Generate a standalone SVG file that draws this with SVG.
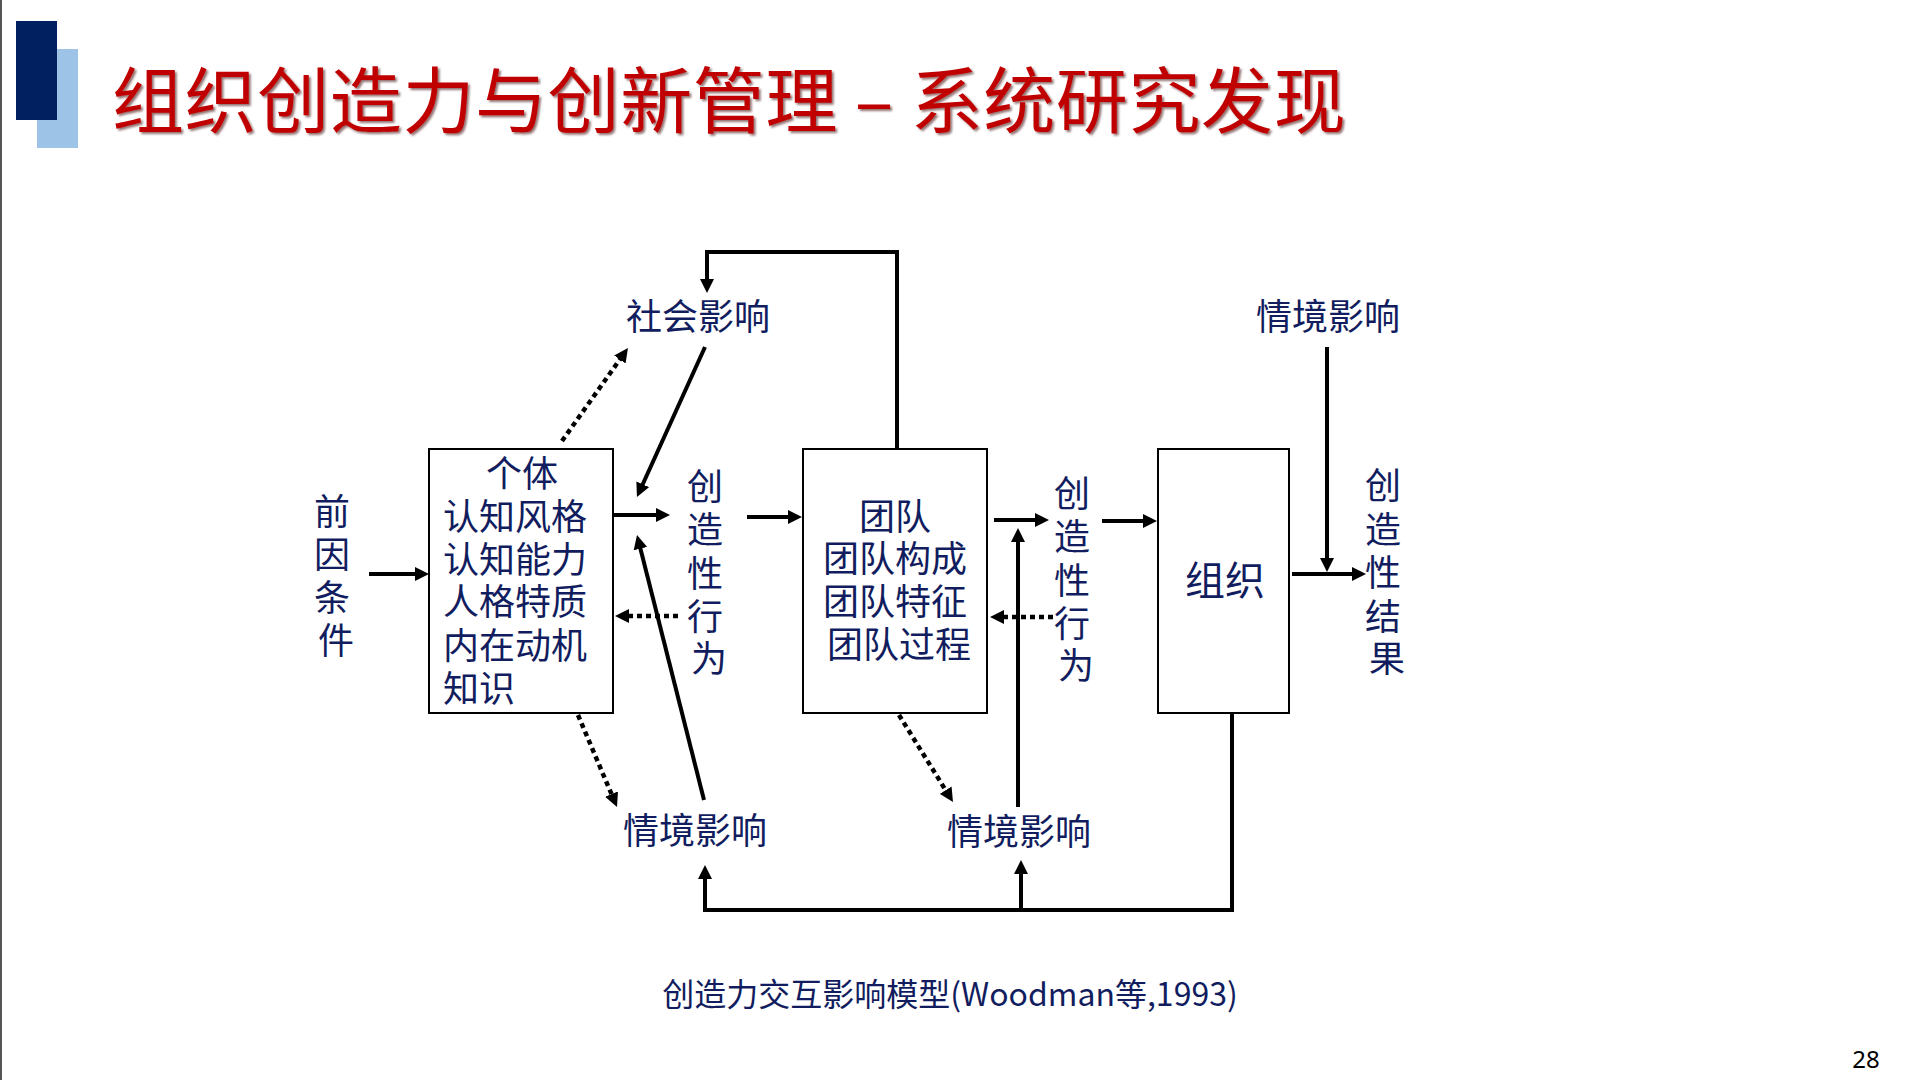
<svg xmlns="http://www.w3.org/2000/svg" width="1920" height="1080" viewBox="0 0 1920 1080">
  <style>
    .lbl { font-family: "Noto Sans CJK SC", "Noto Sans", sans-serif; fill: #111D5E; }
    .box { fill: #FFFFFF; stroke: #000000; stroke-width: 2; }
    .solid { fill: none; stroke: #000000; stroke-width: 4; }
    .dot { fill: none; stroke: #000000; stroke-width: 4.5; stroke-dasharray: 5 4; }
  </style>
  <defs>
    <marker id="head" viewBox="0 0 14 14" refX="3" refY="7" markerWidth="14" markerHeight="14" markerUnits="userSpaceOnUse" orient="auto">
      <path d="M0,0 L14,7 L0,14 Z" fill="#000000"/>
    </marker>
    <filter id="titleShadow" x="-5%" y="-20%" width="110%" height="140%">
      <feDropShadow dx="2" dy="2" stdDeviation="0.8" flood-color="#3A0000" flood-opacity="0.55"/>
    </filter>
  </defs>

  <rect x="0" y="0" width="1920" height="1080" fill="#FFFFFF"/>
  <line x1="1" y1="0" x2="1" y2="1080" stroke="#555555" stroke-width="2"/>

  <!-- title bar -->
  <g id="title">
    <rect x="37" y="49" width="41" height="99" fill="#9DC3E6"/>
    <rect x="16" y="21" width="41" height="99" fill="#002060"/>
    <text x="112" y="127" font-family="'Noto Sans CJK SC', sans-serif" font-size="72" letter-spacing="0.6" fill="#C00000" filter="url(#titleShadow)">组织创造力与创新管理 – 系统研究发现</text>
  </g>

  <!-- connectors -->
  <g id="connectors">
    <line class="solid" x1="369" y1="574" x2="418" y2="574" marker-end="url(#head)"/>
    <line class="solid" x1="613" y1="515" x2="659" y2="515" marker-end="url(#head)"/>
    <line class="solid" x1="747" y1="517" x2="791" y2="517" marker-end="url(#head)"/>
    <line class="dot" x1="678" y1="616" x2="626" y2="616" marker-end="url(#head)"/>
    <line class="solid" x1="705" y1="347" x2="641.5" y2="487" marker-end="url(#head)"/>
    <line class="dot" x1="562" y1="441" x2="621.6" y2="357" marker-end="url(#head)"/>
    <line class="solid" x1="704" y1="800" x2="639.7" y2="545.7" marker-end="url(#head)"/>
    <line class="dot" x1="578" y1="715" x2="612.7" y2="796.9" marker-end="url(#head)"/>
    <path class="solid" d="M897,449 V252 H707 V282" marker-end="url(#head)"/>
    <line class="solid" x1="994" y1="520" x2="1038" y2="520" marker-end="url(#head)"/>
    <line class="solid" x1="1102" y1="521" x2="1146" y2="521" marker-end="url(#head)"/>
    <line class="dot" x1="1053" y1="617" x2="1001" y2="617" marker-end="url(#head)"/>
    <line class="dot" x1="899" y1="715" x2="947.2" y2="792.7" marker-end="url(#head)"/>
    <line class="solid" x1="1018" y1="807" x2="1018" y2="539" marker-end="url(#head)"/>
    <line class="solid" x1="1327" y1="347" x2="1327" y2="561" marker-end="url(#head)"/>
    <line class="solid" x1="1292" y1="574" x2="1355" y2="574" marker-end="url(#head)"/>
    <path class="solid" d="M1232,713 V910 H705 V876" marker-end="url(#head)"/>
    <line class="solid" x1="1021" y1="910" x2="1021" y2="871" marker-end="url(#head)"/>
  </g>

  <!-- antecedents -->
  <g id="antecedents">
    <text class="lbl" font-size="36" text-anchor="middle">
      <tspan x="336" y="525">前</tspan>
      <tspan x="336" y="568">因</tspan>
      <tspan x="336" y="611">条</tspan>
      <tspan x="336" y="654">件</tspan>
    </text>
  </g>

  <!-- individual -->
  <g id="individual">
    <rect class="box" x="429" y="449" width="184" height="264"/>
    <text class="lbl" font-size="36" x="522" y="487" text-anchor="middle">个体</text>
    <text class="lbl" font-size="36">
      <tspan x="443" y="530">认知风格</tspan>
      <tspan x="443" y="573">认知能力</tspan>
      <tspan x="443" y="615">人格特质</tspan>
      <tspan x="443" y="659">内在动机</tspan>
      <tspan x="443" y="702">知识</tspan>
    </text>
  </g>

  <!-- creative behaviour (individual) -->
  <g id="behaviour1">
    <text class="lbl" font-size="36" text-anchor="middle">
      <tspan x="709" y="500">创</tspan>
      <tspan x="709" y="543">造</tspan>
      <tspan x="709" y="587">性</tspan>
      <tspan x="709" y="630">行</tspan>
      <tspan x="709" y="672">为</tspan>
    </text>
  </g>

  <!-- social influence -->
  <g id="social">
    <text class="lbl" font-size="36" x="698" y="330" text-anchor="middle">社会影响</text>
  </g>

  <!-- team -->
  <g id="team">
    <rect class="box" x="803" y="449" width="184" height="264"/>
    <text class="lbl" font-size="36" text-anchor="middle">
      <tspan x="899" y="530">团队</tspan>
      <tspan x="899" y="572">团队构成</tspan>
      <tspan x="899" y="615">团队特征</tspan>
      <tspan x="899" y="658">团队过程</tspan>
    </text>
  </g>

  <!-- creative behaviour (team) -->
  <g id="behaviour2">
    <text class="lbl" font-size="36" text-anchor="middle">
      <tspan x="1076" y="507">创</tspan>
      <tspan x="1076" y="550">造</tspan>
      <tspan x="1076" y="594">性</tspan>
      <tspan x="1076" y="637">行</tspan>
      <tspan x="1076" y="679">为</tspan>
    </text>
  </g>

  <!-- organisation -->
  <g id="organisation">
    <rect class="box" x="1158" y="449" width="131" height="264"/>
    <text class="lbl" font-size="40" x="1225" y="595" text-anchor="middle">组织</text>
  </g>

  <!-- contextual influences -->
  <g id="context-top">
    <text class="lbl" font-size="36" x="1328" y="330" text-anchor="middle">情境影响</text>
  </g>
  <g id="context-left">
    <text class="lbl" font-size="36" x="695" y="844" text-anchor="middle">情境影响</text>
  </g>
  <g id="context-mid">
    <text class="lbl" font-size="36" x="1019" y="845" text-anchor="middle">情境影响</text>
  </g>

  <!-- creative outcome -->
  <g id="outcome">
    <text class="lbl" font-size="36" text-anchor="middle">
      <tspan x="1387" y="499">创</tspan>
      <tspan x="1387" y="543">造</tspan>
      <tspan x="1387" y="586">性</tspan>
      <tspan x="1387" y="630">结</tspan>
      <tspan x="1387" y="672">果</tspan>
    </text>
  </g>

  <!-- caption and page number -->
  <text class="lbl" font-size="32" x="950" y="1006" text-anchor="middle">创造力交互影响模型(Woodman等,1993)</text>
  <text x="1866" y="1068" font-family="'Noto Sans', sans-serif" font-size="24" fill="#000000" text-anchor="middle">28</text>
</svg>
